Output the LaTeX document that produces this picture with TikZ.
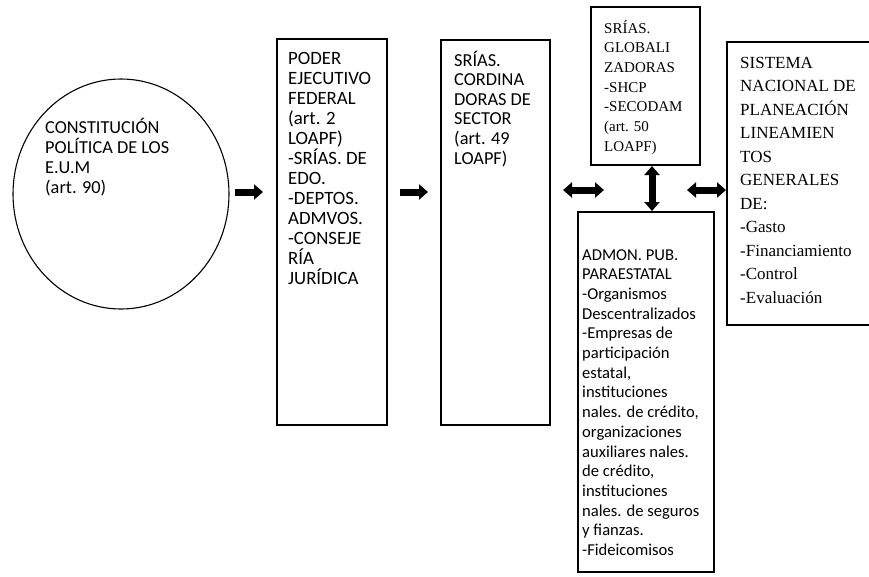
\documentclass[tikz,border=0pt]{standalone}
\usepackage{fontspec}
\setmainfont{Liberation Serif}
\newfontfamily\optfont{Carlito}
\usetikzlibrary{shapes.geometric,arrows.meta}
\newcommand\stk[2]{\vtop{\baselineskip=#1\relax\lineskiplimit=-50pt\lineskip=0pt\halign{##\hfil\cr#2\crcr}}}
\begin{document}
\begin{tikzpicture}[x=1pt,y=-1pt,
  box/.style={draw, line width=1.1pt, rectangle, inner sep=0pt},
  txt/.style={anchor=base west, inner sep=0pt},
  optA/.style={font=\optfont\fontsize{18.3pt}{20pt}\selectfont},
  optP/.style={font=\optfont\fontsize{18.8pt}{20pt}\selectfont},
  optB/.style={font=\optfont\fontsize{16.6pt}{19.7pt}\selectfont},
  serA/.style={font=\fontsize{15pt}{19.7pt}\selectfont},
  serB/.style={font=\fontsize{17pt}{23.5pt}\selectfont},
  fat/.style={line width=7pt, -{Triangle[length=9pt,width=15pt]}},
  fatd/.style={line width=7pt, {Triangle[length=9pt,width=15pt]}-{Triangle[length=9pt,width=15pt]}}]
\useasboundingbox (0,0) rectangle (869,576);
% shapes
\node[draw, ellipse, line width=1.1pt, inner sep=0pt, minimum width=216, minimum height=230] (cons) at (121,194) {};
\node[box, minimum width=110, minimum height=386] (poder) at (332,232) {};
\node[box, minimum width=109, minimum height=385] (cord) at (495.5,232.5) {};
\node[box, minimum width=109, minimum height=158] (glob) at (645.5,86) {};
\node[box, minimum width=136, minimum height=360] (admon) at (646,392) {};
\node[box, minimum width=148, minimum height=283] (sis) at (801,183.5) {};
% texts
\node[txt, optA] (tcons) at (45,133) {\stk{20.3pt}{CONSTITUCIÓN\cr POLÍTICA DE LOS\cr E.U.M\cr (art. 90)}};
\node[txt, optP] (tpoder) at (288,64) {\stk{20pt}{PODER\cr EJECUTIVO\cr FEDERAL\cr (art. 2\cr LOAPF)\cr -SRÍAS. DE\cr EDO.\cr -DEPTOS.\cr ADMVOS.\cr -CONSEJE\cr RÍA\cr JURÍDICA}};
\node[txt, optA] (tcord) at (454,66) {\stk{19.6pt}{SRÍAS.\cr CORDINA\cr DORAS DE\cr SECTOR\cr (art. 49\cr LOAPF)}};
\node[txt, serA] (tglob) at (604,33) {\stk{19.7pt}{SRÍAS.\cr GLOBALI\cr ZADORAS\cr -SHCP\cr -SECODAM\cr (art. 50\cr LOAPF)}};
\node[txt, optB] (tadmon) at (582,260) {\stk{19.7pt}{ADMON. PUB.\cr PARAESTATAL\cr -Organismos\cr Descentralizados\cr -Empresas de\cr participación\cr estatal,\cr instituciones\cr nales. de crédito,\cr organizaciones\cr auxiliares nales.\cr de crédito,\cr instituciones\cr nales. de seguros\cr y fianzas.\cr -Fideicomisos}};
\node[txt, serB] (tsis) at (740,68) {\stk{23.5pt}{SISTEMA\cr NACIONAL DE\cr PLANEACIÓN\cr LINEAMIEN\cr TOS\cr GENERALES\cr DE:\cr -Gasto\cr -Financiamiento\cr -Control\cr -Evaluación}};
% connectors
\coordinate (a1s) at (235,192); \coordinate (a1e) at (263,192);
\coordinate (a2s) at (400,192); \coordinate (a2e) at (428,192);
\coordinate (d1s) at (563,190); \coordinate (d1e) at (604,190);
\coordinate (d2s) at (687,190); \coordinate (d2e) at (726,190);
\coordinate (vs) at (652,166); \coordinate (ve) at (652,211);
\draw[fat] (a1s) -- (a1e);
\draw[fat] (a2s) -- (a2e);
\draw[fatd] (d1s) -- (d1e);
\draw[fatd] (d2s) -- (d2e);
\draw[fatd] (vs) -- (ve);
\end{tikzpicture}
\end{document}
